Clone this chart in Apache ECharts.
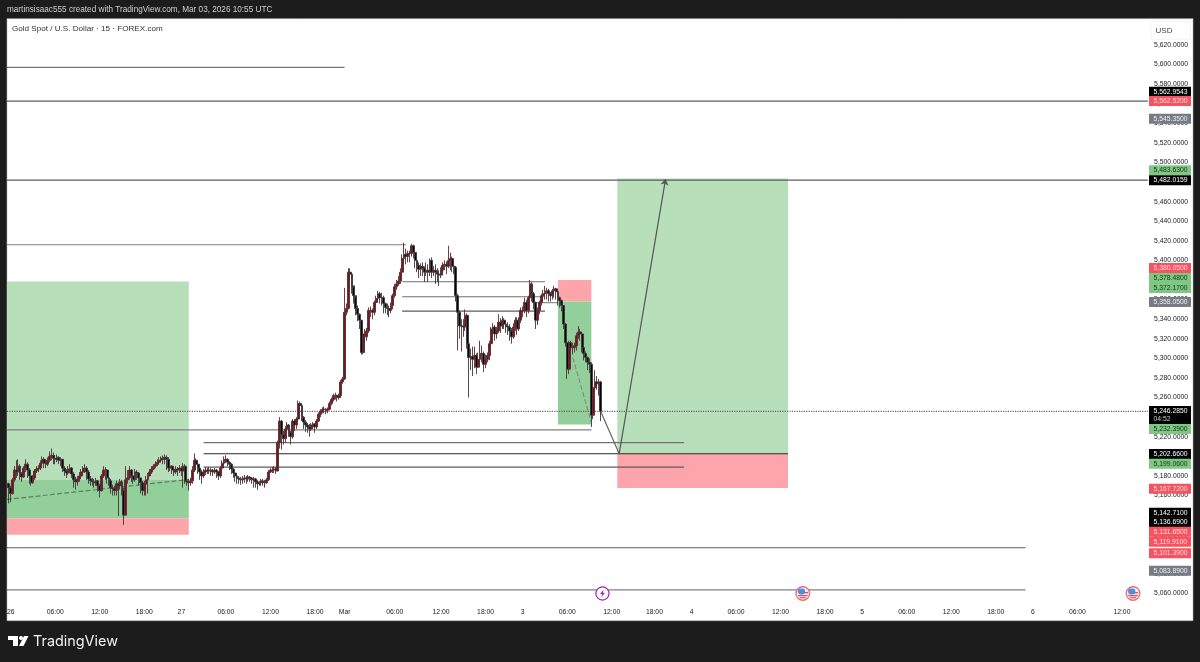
<!DOCTYPE html>
<html><head><meta charset="utf-8">
<style>html,body{margin:0;padding:0;background:#1c1c1c}#c{width:1200px;height:662px}</style>
<script src="https://cdn.jsdelivr.net/npm/echarts@6/dist/echarts.min.js"></script>
</head><body><div id="c"></div>
<script>
const closes=[5172,5168,5162,5176,5186,5184,5190,5182,5179,5188,
5192,5186,5180,5173,5178,5185,5187,5188,5193,5197,
5193,5192,5196,5200,5201,5198,5197,5199,5196,5197,
5188,5185,5183,5187,5188,5182,5176,5174,5177,5180,
5184,5187,5188,5184,5177,5175,5174,5173,5175,5170,
5165,5180,5186,5186,5178,5175,5168,5167,5165,5172,
5170,5174,5165,5140,5176,5178,5186,5180,5176,5184,
5183,5178,5173,5165,5172,5176,5180,5184,5187,5190,
5192,5194,5196,5198,5197,5199,5197,5188,5190,5186,
5184,5187,5186,5188,5185,5190,5175,5174,5173,5175,
5186,5196,5192,5188,5184,5180,5184,5186,5185,5186,
5185,5184,5186,5184,5180,5188,5193,5196,5197,5194,
5192,5187,5183,5180,5178,5177,5176,5177,5178,5177,
5179,5178,5176,5177,5174,5172,5173,5175,5174,5173,
5176,5184,5186,5186,5187,5185,5214,5236,5222,5218,
5228,5232,5224,5220,5236,5232,5238,5254,5252,5240,
5235,5232,5230,5228,5232,5233,5230,5236,5243,5246,
5248,5248,5247,5248,5254,5258,5262,5262,5260,5262,
5276,5279,5347,5351,5388,5386,5374,5364,5351,5345,
5339,5306,5325,5322,5328,5349,5349,5347,5357,5361,
5366,5362,5362,5356,5352,5351,5349,5354,5364,5373,
5376,5379,5388,5402,5406,5404,5407,5407,5415,5408,
5400,5395,5391,5394,5392,5388,5390,5388,5400,5388,
5390,5388,5386,5385,5390,5395,5396,5394,5400,5402,
5394,5393,5364,5347,5333,5333,5332,5344,5315,5301,
5302,5299,5303,5291,5299,5305,5305,5294,5299,5303,
5315,5330,5332,5325,5328,5337,5333,5339,5335,5333,
5332,5328,5322,5332,5339,5330,5339,5349,5349,5357,
5349,5362,5376,5366,5357,5339,5349,5357,5364,5366,
5368,5369,5366,5364,5369,5371,5368,5362,5359,5354,
5335,5316,5289,5316,5311,5311,5313,5323,5327,5325,
5311,5305,5301,5296,5294,5242,5270,5276,5274,5276,5246];
const highs=[5176,5173,5170,5178,5190,5196,5197,5192,5184,5190,
5197,5194,5188,5181,5181,5187,5190,5191,5196,5200,
5199,5196,5199,5205,5208,5204,5201,5202,5200,5199,
5197,5190,5187,5190,5192,5189,5184,5179,5180,5184,
5187,5190,5192,5190,5186,5180,5178,5177,5178,5176,
5172,5182,5190,5189,5187,5180,5177,5171,5170,5175,
5174,5177,5176,5168,5190,5186,5190,5187,5181,5187,
5186,5184,5178,5175,5175,5180,5183,5187,5190,5192,
5195,5197,5199,5200,5201,5202,5201,5199,5192,5191,
5188,5190,5189,5191,5190,5193,5192,5178,5177,5178,
5190,5203,5198,5193,5189,5186,5187,5189,5188,5189,
5188,5187,5188,5187,5185,5190,5196,5200,5201,5198,
5195,5193,5188,5184,5182,5180,5179,5180,5181,5180,
5181,5180,5179,5179,5178,5176,5175,5177,5177,5176,
5178,5186,5188,5189,5190,5189,5216,5240,5237,5226,
5231,5235,5233,5226,5238,5238,5240,5257,5256,5252,
5241,5237,5234,5233,5234,5235,5234,5238,5245,5248,
5250,5251,5249,5250,5256,5260,5264,5265,5263,5264,
5278,5281,5372,5356,5392,5392,5382,5372,5362,5354,
5346,5338,5331,5330,5331,5352,5353,5351,5359,5364,
5369,5368,5367,5364,5357,5356,5354,5357,5366,5376,
5380,5384,5392,5406,5418,5412,5410,5410,5417,5416,
5409,5402,5398,5397,5398,5394,5398,5396,5402,5403,
5394,5396,5392,5390,5393,5398,5400,5399,5415,5408,
5404,5398,5394,5366,5349,5340,5340,5350,5346,5318,
5310,5312,5312,5305,5306,5318,5313,5307,5304,5306,
5318,5332,5336,5334,5332,5345,5341,5343,5341,5338,
5337,5335,5331,5336,5342,5342,5342,5352,5353,5362,
5360,5364,5380,5378,5368,5358,5352,5359,5366,5370,
5374,5372,5371,5368,5371,5374,5372,5369,5363,5360,
5354,5336,5320,5318,5318,5316,5316,5326,5333,5330,
5326,5313,5307,5302,5300,5296,5276,5288,5282,5279,5277];
const lows=[5158,5152,5153,5161,5174,5178,5180,5176,5174,5178,
5184,5178,5172,5170,5172,5176,5183,5184,5186,5192,
5188,5188,5190,5194,5196,5192,5192,5194,5192,5190,
5184,5180,5178,5181,5184,5178,5168,5166,5170,5174,
5178,5182,5183,5176,5172,5170,5170,5168,5170,5164,
5158,5164,5178,5176,5172,5170,5162,5160,5160,5160,
5139,5166,5160,5130,5140,5172,5176,5174,5172,5174,
5176,5170,5162,5160,5160,5160,5162,5180,5182,5186,
5188,5190,5192,5194,5192,5192,5186,5184,5185,5182,
5180,5182,5180,5183,5180,5168,5172,5170,5165,5170,
5172,5184,5186,5182,5176,5172,5178,5181,5182,5182,
5180,5180,5182,5178,5176,5178,5187,5191,5193,5190,
5186,5182,5178,5174,5172,5172,5171,5172,5173,5172,
5174,5174,5172,5168,5168,5166,5170,5170,5170,5168,
5172,5175,5183,5183,5183,5182,5185,5208,5207,5212,
5214,5224,5220,5212,5218,5226,5228,5236,5240,5236,
5228,5225,5224,5220,5226,5228,5224,5228,5235,5240,
5244,5244,5243,5244,5247,5252,5256,5258,5256,5258,
5260,5274,5278,5344,5350,5380,5366,5356,5344,5338,
5330,5304,5304,5312,5318,5326,5342,5340,5344,5354,
5358,5356,5354,5346,5346,5344,5342,5346,5350,5362,
5370,5374,5376,5385,5398,5396,5398,5398,5404,5402,
5392,5388,5382,5384,5384,5378,5384,5378,5384,5382,
5384,5376,5378,5374,5382,5388,5390,5386,5392,5390,
5388,5386,5358,5308,5320,5307,5322,5328,5310,5260,
5288,5282,5290,5284,5292,5296,5296,5286,5290,5296,
5298,5312,5324,5318,5320,5326,5326,5330,5330,5326,
5324,5318,5315,5320,5328,5324,5328,5336,5342,5346,
5342,5346,5358,5358,5350,5330,5334,5345,5354,5358,
5360,5360,5358,5358,5360,5362,5360,5354,5352,5348,
5330,5312,5279,5284,5304,5304,5306,5308,5320,5318,
5306,5298,5296,5288,5285,5230,5238,5266,5268,5262,5236];
const firstOpen=5170;
const opens=closes.map((c,i)=>i?closes[i-1]:firstOpen);

const barCount=616;
const timeLabelBars=[2,26,50,74,94,118,142,166,182,209,234,258,278,302,326,349,369,393,417,441,461,485,509,533,553,577,601];
const timeLabels=['26','06:00','12:00','18:00','27','06:00','12:00','18:00','Mar','06:00','12:00','18:00','3','06:00','12:00','18:00','4','06:00','12:00','18:00','5','06:00','12:00','18:00','6','06:00','12:00'];
const categories=new Array(barCount).fill('');
timeLabelBars.forEach((b,k)=>categories[b]=timeLabels[k]);

const levelPrices=[5597,5562.52,5482,5416,5378.2,5362.9,5348.2,5357,5227,5214,5202.66,5189,5106.7,5063.8];
const levelFrom=[0,0,0,0,213,213,213,285,0,106,106,106,0,0];
const levelTo=[182,615,615,215,290,290,290,297,315,365,421,365,549,549];
const levelColors=['#777','#5c5c5c','#5c5c5c','#808080','#707070','#707070','#5c5c5c','#909090','#808080','#707070','#2a2a2a','#5c5c5c','#5c5c5c','#808080'];

const boxFrom=[0,0,0,297,297,329,329];
const boxTo=[98,98,98,315,315,421,421];
const boxTop=[5378.48,5176.4,5136.69,5380.05,5358.05,5483.63,5202.66];
const boxBottom=[5176.4,5136.69,5119.91,5358.05,5232.39,5202.66,5167.72];
const boxColors=['#b7dfba','#93cf9b','#fda5ab','#fda5ab','#93cf9b','#b7dfba','#fda5ab'];

const tagTexts=['5,562.9543','5,562.5200','5,545.3500','5,483.6300','5,482.0159','5,380.0500','5,378.4800','5,372.1700','5,358.0500','5,232.3900','5,202.6600','5,199.0600','5,167.7200','5,142.7100','5,136.6900','5,131.6500','5,119.9100','5,101.3900','5,083.8900'];
const tagKinds=['k','r','g','e','k','r','e','e','g','e','k','e','r','k','k','r','r','r','g'];
const tagCenters=[91.7,101,118.7,170.3,180.3,268,278,288,302,429,454,463.7,488.7,512.7,522.3,531.7,541.7,553.3,570.7];
const tagFill={k:'#000000',r:'#f7525f',g:'#787b86',e:'#81c784'};
const tagInk={k:'#ffffff',r:'#ffdfe2',g:'#eeeeee',e:'#12331a'};

const font='"Liberation Sans",sans-serif';
const events=[[321,5060,0],[429,5060,1],[607,5060,1]];

function lineSeries(pts,color,type,z){
  return {type:'line',data:pts,showSymbol:false,symbol:'none',silent:true,z:z||2,animation:false,
    lineStyle:{color:color,width:1.2,type:type||'solid'}};
}
const levelSeries=levelPrices.map((p,k)=>lineSeries([[levelFrom[k],p],[levelTo[k],p]],levelColors[k]));

const gfx=[
 {type:'rect',z:-10,shape:{x:7,y:18.7,width:1186,height:602},style:{fill:'#ffffff',stroke:'#b5b5b5',lineWidth:0.6}},
 {type:'text',x:7,y:10,z:50,style:{text:'martinsisaac555 created with TradingView.com, Mar 03, 2026 10:55 UTC',fill:'#d0d0d0',font:'8.2px '+font,verticalAlign:'middle'}},
 {type:'text',x:12,y:28.5,z:50,style:{text:'Gold Spot / U.S. Dollar · 15 · FOREX.com',fill:'#333',font:'8.1px '+font,verticalAlign:'middle'}},
 {type:'rect',z:60,shape:{x:1151,y:21.7,width:39.5,height:17.6},style:{fill:'#fff',stroke:'#ececec',lineWidth:0.6}},
 {type:'text',x:1164,y:30.3,z:61,style:{text:'USD',fill:'#444',font:'8px '+font,align:'center',verticalAlign:'middle'}},
 {type:'rect',z:60,shape:{x:1149,y:406,width:42,height:18.4},style:{fill:'#000'}},
 {type:'text',x:1153.5,y:410.8,z:61,style:{text:'5,246.2850',fill:'#fff',font:'6.8px '+font,verticalAlign:'middle'}},
 {type:'text',x:1153.5,y:419.3,z:61,style:{text:'04:52',fill:'#c8c8c8',font:'6.8px '+font,verticalAlign:'middle'}},
 {type:'rect',z:70,shape:{x:8,y:636,width:10,height:4},style:{fill:'#fff'}},
 {type:'rect',z:70,shape:{x:13,y:636,width:5,height:10},style:{fill:'#fff'}},
 {type:'circle',z:70,shape:{cx:21,cy:638,r:2},style:{fill:'#fff'}},
 {type:'polygon',z:70,shape:{points:[[24,636],[28.5,636],[23.5,646],[19,646]]},style:{fill:'#fff'}},
 {type:'text',x:33,y:641.5,z:70,style:{text:'TradingView',fill:'#f0f0f0',font:'14.4px Inter,'+font,verticalAlign:'middle'}}
];
tagTexts.forEach((t,k)=>{
  gfx.push({type:'rect',z:62,shape:{x:1149,y:tagCenters[k]-5,width:42,height:10},style:{fill:tagFill[tagKinds[k]]}});
  gfx.push({type:'text',x:1153.5,y:tagCenters[k]+0.2,z:63,style:{text:t,fill:tagInk[tagKinds[k]],font:'6.8px '+font,verticalAlign:'middle'}});
});

function renderEvent(params,api){
  const c=api.coord([api.value(0),api.value(1)]);
  const x=c[0],y=c[1];
  if(api.value(2)===0){
    return {type:'group',children:[
      {type:'circle',shape:{cx:x,cy:y,r:6.6},style:{fill:'#fff',stroke:'#9c27b0',lineWidth:1.2}},
      {type:'polygon',shape:{points:[[x+1.2,y-4],[x-2.4,y+0.6],[x-0.3,y+0.6],[x-1.2,y+4],[x+2.4,y-0.8],[x+0.3,y-0.8]]},style:{fill:'#9c27b0'}}
    ]};
  }
  return {type:'group',children:[
    {type:'circle',shape:{cx:x,cy:y,r:6.8},style:{fill:'#fff',stroke:'#f26a75',lineWidth:1.4}},
    {type:'rect',shape:{x:x-5,y:y-5,width:7.4,height:6,r:2.4},style:{fill:'#4a90e8'}},
    {type:'rect',shape:{x:x+1.6,y:y-1.6,width:3.6,height:1.5},style:{fill:'#e2505a'}},
    {type:'rect',shape:{x:x-4.8,y:y+1.4,width:9.6,height:1.4},style:{fill:'#e2505a'}},
    {type:'rect',shape:{x:x-3,y:y+3.6,width:6,height:1.2},style:{fill:'#e2505a'}}
  ]};
}

const chart=echarts.init(document.getElementById('c'),null,{renderer:'canvas'});
chart.setOption({
 animation:false,backgroundColor:'#1c1c1c',
 grid:{left:6.07,right:51.2,top:25.3,bottom:68.5,containLabel:false},
 graphic:gfx,
 xAxis:{type:'category',data:categories,boundaryGap:true,
   axisLine:{show:false},axisTick:{show:false},splitLine:{show:false},
   axisLabel:{interval:0,margin:15,fontSize:6.8,color:'#222',fontFamily:font,hideOverlap:false,
     fontWeight:400}},
 yAxis:{type:'value',position:'right',min:5060,max:5640,interval:20,scale:true,
   axisLine:{show:false},axisTick:{show:false},splitLine:{show:false},
   axisLabel:{margin:5.3,fontSize:6.8,color:'#222',fontFamily:font,
     formatter:v=>v>=5640?'':v.toLocaleString('en-US',{minimumFractionDigits:4})}},
 series:[
  {type:'line',data:[],silent:true,z:1,animation:false,
    markArea:{silent:true,animation:false,
      data:boxFrom.map((b,k)=>[{coord:[b,boxTop[k]],itemStyle:{color:boxColors[k],opacity:1}},{coord:[boxTo[k],boxBottom[k]]}])}},
  ...levelSeries,
  lineSeries([[0,5246],[615,5246]],'#666','dotted'),
  lineSeries([[0,5156],[98,5176.4]],'#5f7f62','dashed',3),
  lineSeries([[305,5300.8],[315,5235]],'#7d8f80','dashed',3),
  lineSeries([[320,5246],[330,5202.66]],'#666'),
  {type:'line',data:[],silent:true,z:3,animation:false,
    markLine:{silent:true,animation:false,symbol:['none','arrow'],symbolSize:6,label:{show:false},
      lineStyle:{color:'#555',width:1.2,type:'solid'},
      data:[[{coord:[330,5202.66]},{coord:[355,5483]}]]}},
  {type:'candlestick',z:4,silent:true,animation:false,barWidth:2.4,
    data:closes.map((c,i)=>[opens[i],c,lows[i],highs[i]]),
    itemStyle:{color:'#6e1a24',color0:'#060606',borderColor:'#5e2a30',borderColor0:'#3a3a3a',borderWidth:0.9}},
  {type:'custom',z:5,silent:true,animation:false,data:events,renderItem:renderEvent,encode:{x:0,y:1},clip:false}
 ]
});
</script></body></html>
